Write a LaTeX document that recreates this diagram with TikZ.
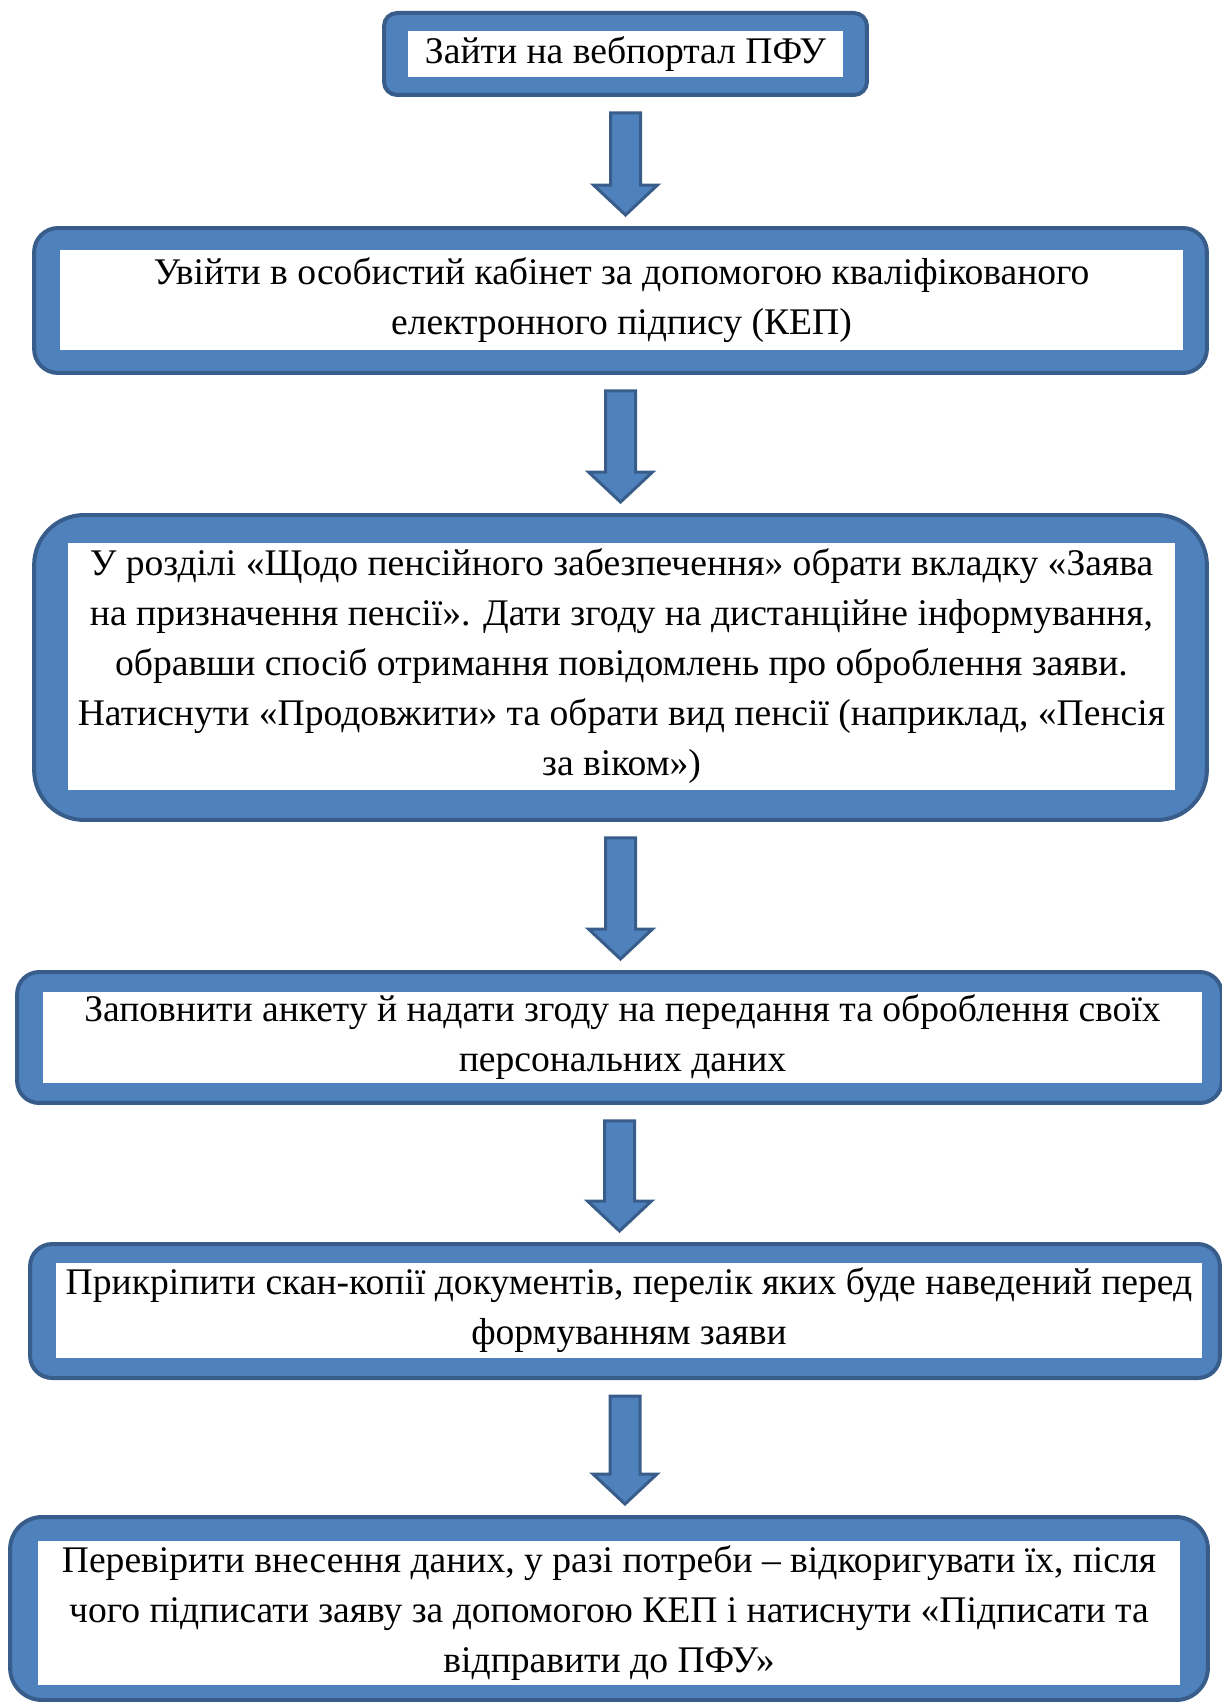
\documentclass[tikz,border=0pt]{standalone}
\usepackage{fontspec}
\newfontfamily\timesfont{Liberation Serif}
\usetikzlibrary{calc}

\definecolor{fillblue}{HTML}{4F81BD}
\definecolor{edgeblue}{HTML}{385D8A}

\tikzset{
  stepframe/.style={draw=edgeblue, fill=fillblue, line width=0.08cm, inner sep=0pt},
  steptext/.style={fill=white, inner sep=0pt, align=center,
    font=\fontsize{21.4pt}{28.45pt}\timesfont},
  fatarrow/.style={draw=edgeblue, fill=fillblue, line width=0.06cm, line join=miter,
    to path={($(\tikztostart)+(-15,16)$) -- ($(\tikztostart |- \tikztotarget)+(-15,-41)$)
      -- ($(\tikztostart |- \tikztotarget)+(-32,-41)$) -- ($(\tikztostart |- \tikztotarget)+(0,-11)$)
      -- ($(\tikztostart |- \tikztotarget)+(32,-41)$) -- ($(\tikztostart |- \tikztotarget)+(15,-41)$)
      -- ($(\tikztostart)+(15,16)$) -- cycle}}
}

\begin{document}
\begin{tikzpicture}[x=0.02cm, y=-0.02cm]
\useasboundingbox (0,0) rectangle (1221,1702);

% frames
\node[stepframe, rounded corners=0.26cm, minimum width=9.66cm, minimum height=1.64cm] (f1) at (625.5,54) {};
\node[stepframe, rounded corners=0.48cm, minimum width=23.46cm, minimum height=2.9cm] (f2) at (620.5,300.5) {};
\node[stepframe, rounded corners=1cm, minimum width=23.46cm, minimum height=6.1cm] (f3) at (620.5,667.5) {};
\node[stepframe, rounded corners=0.44cm, minimum width=24.1cm, minimum height=2.62cm] (f4) at (619.5,1037.5) {};
\node[stepframe, rounded corners=0.44cm, minimum width=23.8cm, minimum height=2.68cm] (f5) at (625,1311) {};
\node[stepframe, rounded corners=0.64cm, minimum width=23.96cm, minimum height=3.66cm] (f6) at (609,1608.5) {};

% texts
\node[steptext, minimum width=8.7cm, minimum height=0.92cm] (t1) at (625.5,54)
  {Зайти на вебпортал ПФУ};
\node[steptext, minimum width=22.46cm, minimum height=2cm] (t2) at (621.5,300)
  {Увійти в особистий кабінет за допомогою кваліфікованого\\
   електронного підпису (КЕП)};
\node[steptext, minimum width=22.14cm, minimum height=4.94cm] (t3) at (621.5,666.5)
  {У розділі «Щодо пенсійного забезпечення» обрати вкладку «Заява\\
   на призначення пенсії». Дати згоду на дистанційне інформування,\\
   обравши спосіб отримання повідомлень про оброблення заяви.\\
   Натиснути «Продовжити» та обрати вид пенсії (наприклад, «Пенсія\\
   за віком»)};
\node[steptext, minimum width=23.18cm, minimum height=1.82cm] (t4) at (622.5,1037.5)
  {Заповнити анкету й надати згоду на передання та оброблення своїх\\
   персональних даних};
\node[steptext, minimum width=22.92cm, minimum height=1.9cm] (t5) at (629,1310.5)
  {Прикріпити скан-копії документів, перелік яких буде наведений перед\\
   формуванням заяви};
\node[steptext, minimum width=22.84cm, minimum height=2.88cm] (t6) at (609,1613)
  {Перевірити внесення даних, у разі потреби – відкоригувати їх, після\\
   чого підписати заяву за допомогою КЕП і натиснути «Підписати та\\
   відправити до ПФУ»};

% arrows
\draw[fatarrow] (f1.south) to (f2.north);
\draw[fatarrow] (f2.south) to (f3.north);
\draw[fatarrow] (f3.south) to (f4.north);
\draw[fatarrow] (f4.south) to (f5.north);
\draw[fatarrow] (f5.south) to (f6.north);
\end{tikzpicture}
\end{document}
